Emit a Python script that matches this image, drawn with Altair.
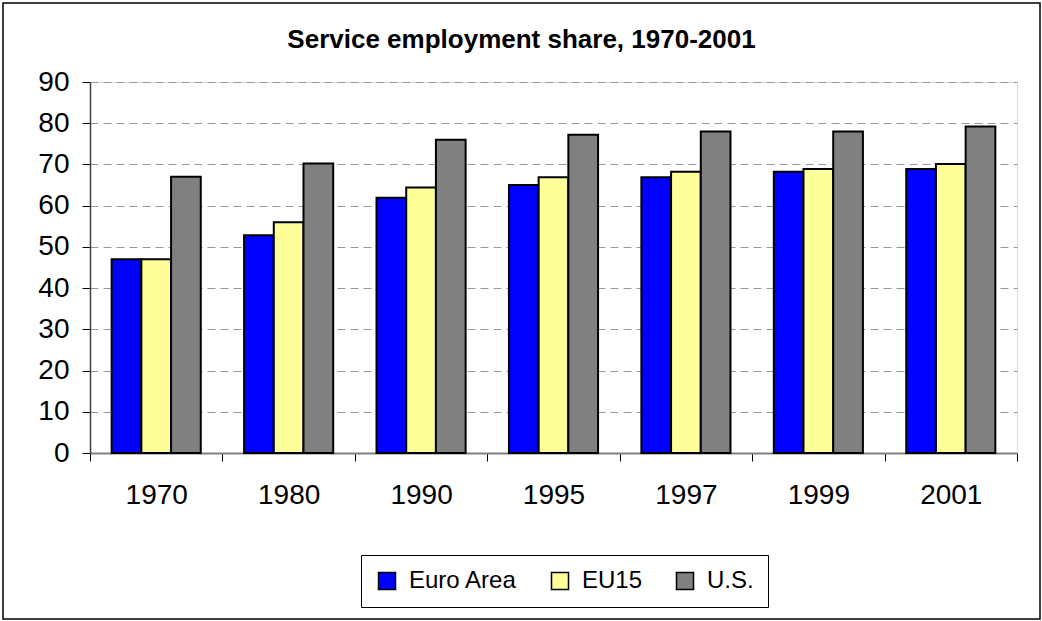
import altair as alt
import pandas as pd

years = ["1970", "1980", "1990", "1995", "1997", "1999", "2001"]
series = ["Euro Area", "EU15", "U.S."]
euro_area = [47, 52.8, 61.9, 65.0, 66.9, 68.2, 68.9]
eu15 = [47, 56.0, 64.4, 66.9, 68.2, 68.9, 70.1]
us = [67, 70.2, 76.0, 77.2, 78.0, 78.0, 79.2]
colors = ["#0000FF", "#FFFF99", "#808080"]

rows = []
for name, vals in zip(series, [euro_area, eu15, us]):
    for y, v in zip(years, vals):
        rows.append({"year": y, "series": name, "value": v})
df = pd.DataFrame(rows)

FONT = "Liberation Sans"

bars = alt.Chart(df).mark_bar(stroke="black", strokeWidth=2).encode(
    x=alt.X("year:N", sort=years, title=None,
            scale=alt.Scale(paddingInner=0, paddingOuter=0),
            axis=alt.Axis(labelAngle=0, tickBand="extent", tickSize=8,
                          tickColor="black", labelFontSize=28, labelFont=FONT,
                          labelColor="black", labelPadding=20,
                          domainColor="#808080", domainWidth=2, grid=False)),
    xOffset=alt.XOffset("series:N", sort=series,
                        scale=alt.Scale(paddingInner=0, paddingOuter=0.729)),
    y=alt.Y("value:Q", title=None,
            scale=alt.Scale(domain=[0, 90], nice=False),
            axis=alt.Axis(values=list(range(0, 91, 10)), tickSize=8,
                          tickColor="black", labelFontSize=28, labelFont=FONT,
                          labelColor="black", labelPadding=13,
                          domainColor="#404040", domainWidth=1.5,
                          grid=True, gridColor="#999999", gridDash=[8, 5],
                          gridWidth=1)),
    color=alt.Color("series:N", sort=series,
                    scale=alt.Scale(domain=series, range=colors),
                    legend=alt.Legend(title=None, orient="none", legendX=271,
                                      legendY=473, direction="horizontal",
                                      strokeColor="black", padding=14,
                                      symbolType="square", symbolSize=289,
                                      symbolStrokeColor="black",
                                      symbolStrokeWidth=1.5,
                                      labelFontSize=24, labelFont=FONT,
                                      labelColor="black", labelOffset=10,
                                      columnPadding=30)),
)

frame_df = pd.DataFrame({"f": [0]})
frame = alt.Chart(frame_df).mark_rect(filled=False, stroke="black",
                                      strokeWidth=1.5).encode(
    x=alt.value(-87), x2=alt.value(950), y=alt.value(-79), y2=alt.value(537)
)

chart = alt.layer(bars, frame).properties(
    width=927, height=371,
    title=alt.TitleParams("Service employment share, 1970-2001",
                          fontSize=26, font=FONT, fontWeight="bold",
                          anchor="middle", frame="group", dx=-32,
                          baseline="alphabetic", offset=-72, color="black"),
    autosize=alt.AutoSizeParams(type="none"),
    padding={"left": 90, "top": 82, "right": 25, "bottom": 168},
).configure_view(stroke="#808080", strokeWidth=2).configure(background="white")

chart.save("out.html", embed_options={"renderer": "svg", "actions": False})
